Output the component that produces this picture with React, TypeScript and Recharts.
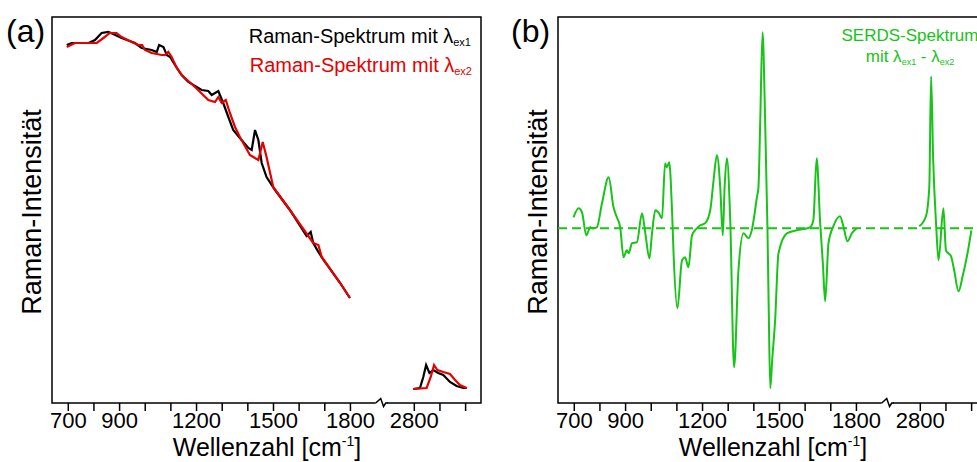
import { LineChart, Line, XAxis, YAxis, ReferenceArea, ReferenceLine, ReferenceDot } from 'recharts';

const FONT = '"Liberation Sans", Arial, Helvetica, sans-serif';
const RED = '#e60000';
const GREEN = '#17c417';

// x axis is broken between ~1920 and ~2670 cm-1
const BREAK_SHIFT = 751;
const BREAK_AT = 1922;
const X_MIN = 636.5;
const X_MAX = 2309;

const tickWn = [700, 800, 900, 1000, 1100, 1200, 1300, 1400, 1500, 1600, 1700, 1800, 2800, 2900, 3000];
const labeledWn = [700, 900, 1200, 1500, 1800, 2800];

// (a) Raman-Spektrum λex1
const ex1LowWn = [694, 713, 740, 779, 804, 830, 856, 875, 908, 960, 986, 1025, 1045, 1054, 1071, 1084, 1097, 1116, 1142, 1168, 1220, 1246, 1259, 1285, 1304, 1324, 1343, 1369, 1402, 1415, 1428, 1441, 1454, 1473, 1506, 1564, 1629, 1645, 1655, 1675, 1695, 1760, 1798];
const ex1LowInt = [358, 360, 360, 360, 363, 370, 371, 369, 365, 360, 355, 353, 351, 358, 356, 348, 346, 338, 328, 321, 313, 312, 308, 312, 300, 286, 273, 265, 255, 253, 273, 263, 240, 226, 213, 193, 167, 171, 160, 151, 143, 120, 105];
const ex1HighWn = [2796, 2822, 2835, 2846, 2859, 2874, 2893, 2913, 2939, 2965, 2991, 3004];
const ex1HighInt = [14, 15, 26, 38, 30, 33, 30, 28, 21, 17, 15, 15];

// (a) Raman-Spektrum λex2
const ex2LowWn = [694, 726, 765, 811, 837, 862, 888, 908, 947, 973, 988, 999, 1025, 1064, 1077, 1090, 1103, 1123, 1142, 1194, 1246, 1272, 1285, 1298, 1314, 1330, 1350, 1369, 1408, 1441, 1458, 1473, 1499, 1564, 1655, 1675, 1688, 1760, 1798];
const ex2LowInt = [356, 360, 360, 360, 365, 370, 370, 366, 361, 358, 358, 353, 350, 348, 348, 351, 346, 335, 328, 316, 303, 301, 306, 300, 303, 290, 276, 266, 248, 243, 261, 246, 216, 193, 160, 158, 146, 120, 105];
const ex2HighWn = [2796, 2848, 2864, 2877, 2890, 2913, 2939, 2959, 2978, 3004];
const ex2HighInt = [14, 15, 26, 38, 33, 31, 29, 23, 18, 15];

// (b) SERDS-Spektrum λex1 - λex2
const serdsLowWn = [697, 717, 730, 747, 762, 775, 788, 808, 834, 853, 866, 879, 892, 905, 912, 925, 944, 964, 977, 993, 1003, 1016, 1028, 1042, 1054, 1061, 1070, 1081, 1087, 1102, 1120, 1132, 1145, 1159, 1178, 1191, 1210, 1230, 1243, 1256, 1269, 1279, 1286, 1295, 1308, 1323, 1340, 1360, 1379, 1392, 1412, 1418, 1425, 1434, 1444, 1453, 1458, 1464, 1472, 1483, 1496, 1529, 1568, 1619, 1632, 1645, 1658, 1669, 1678, 1691, 1710, 1736, 1749, 1765, 1782, 1801];
const serdsLowInt = [11, 20, 16, -7, 1, 0, 1, 25, 51, 21, 11, 1, -29, -22, -25, -15, -14, 15, -5, -30, -5, 18, 16, 10, 65, 61, 66, 18, -25, -80, -32, -29, -39, -7, 0, 3, 5, 18, 48, 73, 41, -7, 41, 70, 8, -139, -42, -5, -10, -2, 31, 41, 108, 196, 108, 1, -80, -160, -130, -92, -25, -5, -2, 1, 8, 70, 8, -35, -73, -15, 2, 12, 2, -13, -5, 0];
const serdsHighWn = [2796, 2822, 2835, 2842, 2850, 2862, 2871, 2890, 2900, 2920, 2932, 2949, 2965, 2984, 2999];
const serdsHighInt = [2, 12, 41, 152, 70, 2, -32, 20, -22, -28, -42, -63, -48, -25, -2];

const toAxis = (wn: number) => (wn > 2000 ? wn - BREAK_SHIFT : wn);
const toSeries = (wn: number[], val: number[]) => wn.map((w, i) => ({ x: toAxis(w), y: val[i] }));
const ticks = tickWn.map(toAxis);
const fmtTick = (v: number) => {
  const wn = Math.round(v > BREAK_AT ? v + BREAK_SHIFT : v);
  return labeledWn.includes(wn) ? String(wn) : '';
};

const BreakMark = ({ cx, cy }: any) => (
  <g>
    <line x1={cx - 6} y1={cy} x2={cx + 5} y2={cy} stroke="#fff" strokeWidth={4} />
    <polyline
      points={`${cx - 6},${cy} ${cx - 1},${cy - 4.5} ${cx + 1.8},${cy + 3.5} ${cx + 4},${cy} ${cx + 6},${cy}`}
      fill="none"
      stroke="#000"
      strokeWidth={1.5}
    />
  </g>
);

const Panel = ({ yMin, yMax, children }: any) => (
  <LineChart width={490} height={462} margin={{ top: 17, right: 9, left: 52, bottom: 0 }}>
    <XAxis
      dataKey="x"
      type="number"
      domain={[X_MIN, X_MAX]}
      allowDataOverflow
      ticks={ticks}
      tickFormatter={fmtTick}
      interval={0}
      height={59}
      axisLine={false}
      tickSize={8}
      tickMargin={1}
      tickLine={{ stroke: '#000', strokeWidth: 1.5 }}
      tick={{ fill: '#000', fontSize: 22, fontFamily: FONT }}
    />
    <YAxis type="number" domain={[yMin, yMax]} allowDataOverflow hide />
    <ReferenceArea x1={X_MIN} x2={X_MAX} y1={yMin} y2={yMax} fill="none" stroke="#000" strokeWidth={1.5} ifOverflow="visible" />
    {children}
    <ReferenceDot x={BREAK_AT} y={yMin} r={0} ifOverflow="visible" shape={(p: any) => <BreakMark cx={p.cx} cy={p.cy} />} />
  </LineChart>
);

export default function App() {
  return (
    <div style={{ position: 'fixed', left: 0, top: 0, width: 977, height: 462, overflow: 'hidden', background: '#fff' }}>
      <div style={{ position: 'absolute', left: 0, top: 0 }}>
        <Panel yMin={0} yMax={386}>
          <Line data={toSeries(ex1LowWn, ex1LowInt)} dataKey="y" stroke="#000" strokeWidth={2.2} dot={false} isAnimationActive={false} />
          <Line data={toSeries(ex1HighWn, ex1HighInt)} dataKey="y" stroke="#000" strokeWidth={2.2} dot={false} isAnimationActive={false} />
          <Line data={toSeries(ex2LowWn, ex2LowInt)} dataKey="y" stroke={RED} strokeWidth={2.2} dot={false} isAnimationActive={false} />
          <Line data={toSeries(ex2HighWn, ex2HighInt)} dataKey="y" stroke={RED} strokeWidth={2.2} dot={false} isAnimationActive={false} />
        </Panel>
      </div>
      <div style={{ position: 'absolute', left: 506, top: 0 }}>
        <Panel yMin={-174.7} yMax={211.3}>
          <ReferenceLine y={0} stroke={GREEN} strokeWidth={2} strokeDasharray="9 5" />
          <Line data={toSeries(serdsLowWn, serdsLowInt)} dataKey="y" type="monotone" stroke={GREEN} strokeWidth={2} dot={false} isAnimationActive={false} />
          <Line data={toSeries(serdsHighWn, serdsHighInt)} dataKey="y" type="monotone" stroke={GREEN} strokeWidth={2} dot={false} isAnimationActive={false} />
        </Panel>
      </div>
      <svg width={977} height={462} style={{ position: 'absolute', left: 0, top: 0, pointerEvents: 'none' }} fontFamily={FONT}>
        <text x={6} y={42} fontSize={32}>(a)</text>
        <text x={511} y={42} fontSize={32}>(b)</text>
        <text x={41} y={212} fontSize={27} textAnchor="middle" transform="rotate(-90 41 212)">Raman-Intensität</text>
        <text x={547} y={212} fontSize={27} textAnchor="middle" transform="rotate(-90 547 212)">Raman-Intensität</text>
        <text x={267} y={456} fontSize={25} textAnchor="middle">
          Wellenzahl [cm<tspan fontSize={14} dy={-10}>-1</tspan><tspan dy={10}>]</tspan>
        </text>
        <text x={773} y={456} fontSize={25} textAnchor="middle">
          Wellenzahl [cm<tspan fontSize={14} dy={-10}>-1</tspan><tspan dy={10}>]</tspan>
        </text>
        <text x={471} y={43} fontSize={20} textAnchor="end" fill="#000">
          Raman-Spektrum mit λ<tspan fontSize={11} dy={3}>ex1</tspan>
        </text>
        <text x={472} y={72} fontSize={20} textAnchor="end" fill={RED}>
          Raman-Spektrum mit λ<tspan fontSize={11} dy={3}>ex2</tspan>
        </text>
        <text x={910} y={41} fontSize={17} textAnchor="middle" fill={GREEN}>SERDS-Spektrum</text>
        <text x={910} y={62} fontSize={17} textAnchor="middle" fill={GREEN}>
          mit λ<tspan fontSize={9} dy={3}>ex1</tspan><tspan dy={-3}> - λ</tspan><tspan fontSize={9} dy={3}>ex2</tspan>
        </text>
      </svg>
    </div>
  );
}
